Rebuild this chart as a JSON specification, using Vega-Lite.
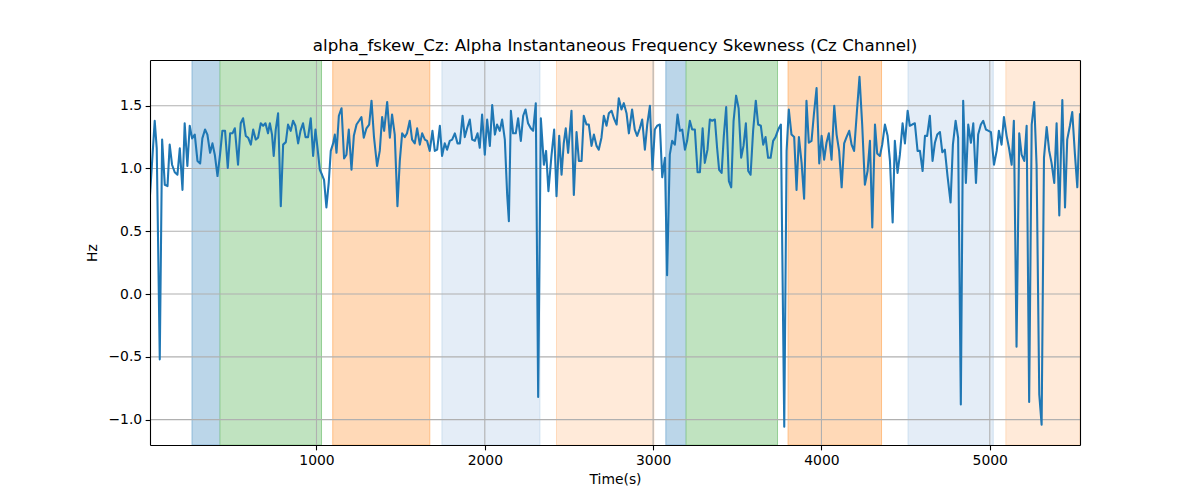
{
  "$schema": "https://vega.github.io/schema/vega-lite/v6.json",
  "width": 930,
  "height": 385,
  "autosize": {"type": "none"},
  "padding": {"left": 150, "top": 60, "right": 120, "bottom": 55},
  "background": "white",
  "config": {"view": {"stroke": null}, "font": "DejaVu Sans"},
  "title": {"text": "alpha_fskew_Cz: Alpha Instantaneous Frequency Skewness (Cz Channel)", "font": "DejaVu Sans", "fontSize": 16.7, "fontWeight": "normal", "color": "black", "anchor": "middle", "offset": -8, "baseline": "alphabetic"},
  "datasets": {
    "bands": [
      {"start": 261, "end": 427, "phase": "A"},
      {"start": 427, "end": 1030, "phase": "B"},
      {"start": 1097, "end": 1673, "phase": "C"},
      {"start": 1746, "end": 2327, "phase": "D"},
      {"start": 2426, "end": 3004, "phase": "E"},
      {"start": 3076, "end": 3196, "phase": "A"},
      {"start": 3196, "end": 3739, "phase": "B"},
      {"start": 3802, "end": 4357, "phase": "C"},
      {"start": 4515, "end": 5020, "phase": "D"},
      {"start": 5096, "end": 5536, "phase": "E"}
    ],
    "xgrid": [{"x": 1000}, {"x": 2000}, {"x": 3000}, {"x": 4000}, {"x": 5000}],
    "ygrid": [{"y": -1.0}, {"y": -0.5}, {"y": 0.0}, {"y": 0.5}, {"y": 1.0}, {"y": 1.5}],
    "series": [
      {"t": 11, "v": 0.79}, {"t": 39, "v": 1.38}, {"t": 51, "v": 1.16}, {"t": 69, "v": -0.52}, {"t": 83, "v": 1.23}, {"t": 99, "v": 0.87}, {"t": 115, "v": 0.86}, {"t": 128, "v": 1.19}, {"t": 142, "v": 1.03}, {"t": 158, "v": 0.97}, {"t": 174, "v": 0.95}, {"t": 188, "v": 1.16}, {"t": 204, "v": 0.83}, {"t": 217, "v": 1.36}, {"t": 233, "v": 1.02}, {"t": 247, "v": 1.34}, {"t": 261, "v": 1.24}, {"t": 277, "v": 1.27}, {"t": 293, "v": 1.06}, {"t": 309, "v": 1.04}, {"t": 322, "v": 1.24}, {"t": 338, "v": 1.31}, {"t": 352, "v": 1.27}, {"t": 368, "v": 1.125}, {"t": 382, "v": 1.2}, {"t": 396, "v": 1.11}, {"t": 412, "v": 0.94}, {"t": 427, "v": 1.11}, {"t": 441, "v": 1.3}, {"t": 457, "v": 1.3}, {"t": 473, "v": 1.005}, {"t": 487, "v": 1.28}, {"t": 501, "v": 1.28}, {"t": 515, "v": 1.32}, {"t": 534, "v": 1.03}, {"t": 550, "v": 1.36}, {"t": 564, "v": 1.4}, {"t": 580, "v": 1.26}, {"t": 594, "v": 1.245}, {"t": 610, "v": 1.19}, {"t": 624, "v": 1.31}, {"t": 639, "v": 1.23}, {"t": 653, "v": 1.245}, {"t": 669, "v": 1.36}, {"t": 683, "v": 1.34}, {"t": 697, "v": 1.36}, {"t": 712, "v": 1.28},
      {"t": 723, "v": 1.36}, {"t": 736, "v": 1.27}, {"t": 746, "v": 1.1}, {"t": 758, "v": 1.31}, {"t": 772, "v": 1.44}, {"t": 788, "v": 0.7}, {"t": 802, "v": 1.19}, {"t": 818, "v": 1.21}, {"t": 831, "v": 1.35}, {"t": 847, "v": 1.3}, {"t": 861, "v": 1.38}, {"t": 875, "v": 1.34}, {"t": 891, "v": 1.2}, {"t": 905, "v": 1.3}, {"t": 920, "v": 1.36}, {"t": 935, "v": 1.25}, {"t": 950, "v": 1.25}, {"t": 966, "v": 1.4}, {"t": 980, "v": 1.1}, {"t": 994, "v": 1.31}, {"t": 1006, "v": 1.165}, {"t": 1020, "v": 0.99}, {"t": 1033, "v": 0.95}, {"t": 1045, "v": 0.91}, {"t": 1059, "v": 0.69}, {"t": 1073, "v": 0.89}, {"t": 1085, "v": 1.14}, {"t": 1099, "v": 1.2}, {"t": 1109, "v": 1.27}, {"t": 1119, "v": 1.125}, {"t": 1133, "v": 1.42}, {"t": 1149, "v": 1.48}, {"t": 1164, "v": 1.08}, {"t": 1178, "v": 1.11}, {"t": 1192, "v": 1.31}, {"t": 1208, "v": 0.99}, {"t": 1222, "v": 1.26}, {"t": 1238, "v": 1.35}, {"t": 1253, "v": 1.38}, {"t": 1267, "v": 1.41}, {"t": 1281, "v": 1.245}, {"t": 1297, "v": 1.32}, {"t": 1313, "v": 1.35}, {"t": 1327, "v": 1.54}, {"t": 1342, "v": 1.245}, {"t": 1360, "v": 1.02}, {"t": 1376, "v": 1.14}, {"t": 1390, "v": 1.41}, {"t": 1402, "v": 1.3}, {"t": 1420, "v": 1.53}, {"t": 1436, "v": 1.245},
      {"t": 1449, "v": 1.43}, {"t": 1465, "v": 1.27}, {"t": 1481, "v": 0.7}, {"t": 1495, "v": 1.06}, {"t": 1509, "v": 1.28}, {"t": 1525, "v": 1.25}, {"t": 1538, "v": 1.28}, {"t": 1554, "v": 1.38}, {"t": 1568, "v": 1.23}, {"t": 1584, "v": 1.2}, {"t": 1598, "v": 1.32}, {"t": 1614, "v": 1.19}, {"t": 1628, "v": 1.28}, {"t": 1644, "v": 1.23}, {"t": 1657, "v": 1.22}, {"t": 1673, "v": 1.14}, {"t": 1689, "v": 1.3}, {"t": 1703, "v": 1.14}, {"t": 1717, "v": 1.15}, {"t": 1733, "v": 1.34}, {"t": 1746, "v": 1.1}, {"t": 1762, "v": 1.2}, {"t": 1776, "v": 1.15}, {"t": 1792, "v": 1.22}, {"t": 1806, "v": 1.23}, {"t": 1822, "v": 1.28}, {"t": 1838, "v": 1.2}, {"t": 1852, "v": 1.2}, {"t": 1868, "v": 1.42}, {"t": 1881, "v": 1.25}, {"t": 1895, "v": 1.32}, {"t": 1911, "v": 1.39}, {"t": 1925, "v": 1.23}, {"t": 1941, "v": 1.22}, {"t": 1957, "v": 1.28}, {"t": 1970, "v": 1.165}, {"t": 1984, "v": 1.43}, {"t": 2000, "v": 1.11}, {"t": 2014, "v": 1.39}, {"t": 2030, "v": 1.18}, {"t": 2044, "v": 1.505}, {"t": 2060, "v": 1.27}, {"t": 2073, "v": 1.35}, {"t": 2089, "v": 1.3}, {"t": 2103, "v": 1.39}, {"t": 2119, "v": 1.23}, {"t": 2133, "v": 0.79}, {"t": 2143, "v": 0.58},
      {"t": 2155, "v": 1.46}, {"t": 2168, "v": 1.28}, {"t": 2184, "v": 1.28}, {"t": 2198, "v": 1.4}, {"t": 2214, "v": 1.22}, {"t": 2228, "v": 1.42}, {"t": 2242, "v": 1.47}, {"t": 2257, "v": 1.36}, {"t": 2273, "v": 1.32}, {"t": 2287, "v": 1.3}, {"t": 2303, "v": 1.52}, {"t": 2317, "v": -0.82}, {"t": 2333, "v": 1.4}, {"t": 2351, "v": 1.03}, {"t": 2364, "v": 1.14}, {"t": 2378, "v": 0.82}, {"t": 2396, "v": 1.1}, {"t": 2412, "v": 1.31}, {"t": 2426, "v": 0.78}, {"t": 2442, "v": 1.26}, {"t": 2456, "v": 0.95}, {"t": 2469, "v": 1.2}, {"t": 2481, "v": 1.32}, {"t": 2495, "v": 1.125}, {"t": 2515, "v": 1.46}, {"t": 2529, "v": 0.79}, {"t": 2545, "v": 1.29}, {"t": 2559, "v": 1.06}, {"t": 2575, "v": 1.06}, {"t": 2588, "v": 1.42}, {"t": 2604, "v": 1.35}, {"t": 2618, "v": 1.35}, {"t": 2634, "v": 1.18}, {"t": 2648, "v": 1.27}, {"t": 2664, "v": 1.18}, {"t": 2677, "v": 1.15}, {"t": 2693, "v": 1.245}, {"t": 2707, "v": 1.42}, {"t": 2723, "v": 1.34}, {"t": 2737, "v": 1.44}, {"t": 2753, "v": 1.46}, {"t": 2767, "v": 1.4}, {"t": 2783, "v": 1.35}, {"t": 2796, "v": 1.56}, {"t": 2812, "v": 1.47}, {"t": 2826, "v": 1.52}, {"t": 2842, "v": 1.44}, {"t": 2856, "v": 1.28},
      {"t": 2875, "v": 1.47}, {"t": 2891, "v": 1.31}, {"t": 2905, "v": 1.26}, {"t": 2921, "v": 1.32}, {"t": 2935, "v": 1.39}, {"t": 2951, "v": 1.15}, {"t": 2965, "v": 1.35}, {"t": 2981, "v": 1.5}, {"t": 2996, "v": 0.99}, {"t": 3010, "v": 1.31}, {"t": 3024, "v": 1.34}, {"t": 3040, "v": 1.35}, {"t": 3054, "v": 0.93}, {"t": 3070, "v": 1.085}, {"t": 3083, "v": 0.15}, {"t": 3099, "v": 1.11}, {"t": 3113, "v": 1.22}, {"t": 3129, "v": 1.19}, {"t": 3145, "v": 1.43}, {"t": 3159, "v": 1.3}, {"t": 3173, "v": 1.31}, {"t": 3189, "v": 1.15}, {"t": 3202, "v": 1.22}, {"t": 3218, "v": 1.38}, {"t": 3232, "v": 1.31}, {"t": 3248, "v": 1.31}, {"t": 3264, "v": 0.97}, {"t": 3278, "v": 0.97}, {"t": 3294, "v": 1.32}, {"t": 3307, "v": 1.045}, {"t": 3323, "v": 1.15}, {"t": 3337, "v": 1.39}, {"t": 3351, "v": 1.38}, {"t": 3367, "v": 1.39}, {"t": 3380, "v": 1.165}, {"t": 3392, "v": 0.99}, {"t": 3407, "v": 0.965}, {"t": 3420, "v": 1.26}, {"t": 3434, "v": 1.49}, {"t": 3450, "v": 0.9}, {"t": 3464, "v": 0.85}, {"t": 3478, "v": 1.38}, {"t": 3493, "v": 1.58}, {"t": 3508, "v": 1.48}, {"t": 3523, "v": 1.085}, {"t": 3537, "v": 1.18}, {"t": 3551, "v": 1.36}, {"t": 3565, "v": 0.98},
      {"t": 3579, "v": 0.95}, {"t": 3594, "v": 1.3}, {"t": 3610, "v": 1.54}, {"t": 3624, "v": 1.35}, {"t": 3640, "v": 1.34}, {"t": 3654, "v": 1.19}, {"t": 3668, "v": 1.25}, {"t": 3683, "v": 1.085}, {"t": 3698, "v": 1.085}, {"t": 3713, "v": 1.22}, {"t": 3727, "v": 1.25}, {"t": 3743, "v": 1.31}, {"t": 3759, "v": 1.35}, {"t": 3779, "v": -1.056}, {"t": 3793, "v": 1.14}, {"t": 3806, "v": 1.47}, {"t": 3822, "v": 1.27}, {"t": 3838, "v": 1.25}, {"t": 3852, "v": 0.83}, {"t": 3866, "v": 1.25}, {"t": 3882, "v": 1.045}, {"t": 3897, "v": 0.76}, {"t": 3911, "v": 1.54}, {"t": 3925, "v": 1.205}, {"t": 3941, "v": 1.22}, {"t": 3955, "v": 1.43}, {"t": 3971, "v": 1.64}, {"t": 3987, "v": 1.04}, {"t": 4001, "v": 1.26}, {"t": 4016, "v": 1.07}, {"t": 4030, "v": 1.205}, {"t": 4044, "v": 1.28}, {"t": 4060, "v": 1.07}, {"t": 4076, "v": 1.5}, {"t": 4090, "v": 1.27}, {"t": 4105, "v": 1.14}, {"t": 4120, "v": 0.85}, {"t": 4135, "v": 1.2}, {"t": 4149, "v": 1.25}, {"t": 4165, "v": 1.3}, {"t": 4179, "v": 1.19}, {"t": 4194, "v": 1.14}, {"t": 4211, "v": 1.46}, {"t": 4226, "v": 1.73}, {"t": 4242, "v": 1.35}, {"t": 4258, "v": 0.87}, {"t": 4274, "v": 0.98},
      {"t": 4288, "v": 1.22}, {"t": 4302, "v": 0.53}, {"t": 4318, "v": 1.35}, {"t": 4331, "v": 1.12}, {"t": 4347, "v": 1.1}, {"t": 4361, "v": 1.19}, {"t": 4377, "v": 1.35}, {"t": 4393, "v": 1.26}, {"t": 4407, "v": 1.06}, {"t": 4423, "v": 0.57}, {"t": 4436, "v": 1.22}, {"t": 4452, "v": 0.965}, {"t": 4466, "v": 1.11}, {"t": 4482, "v": 1.36}, {"t": 4496, "v": 1.2}, {"t": 4512, "v": 1.46}, {"t": 4525, "v": 1.34}, {"t": 4539, "v": 1.35}, {"t": 4555, "v": 1.36}, {"t": 4571, "v": 1.14}, {"t": 4585, "v": 1.14}, {"t": 4601, "v": 0.98}, {"t": 4615, "v": 1.26}, {"t": 4628, "v": 1.26}, {"t": 4644, "v": 1.42}, {"t": 4660, "v": 1.06}, {"t": 4674, "v": 1.205}, {"t": 4688, "v": 1.27}, {"t": 4704, "v": 1.29}, {"t": 4718, "v": 1.13}, {"t": 4733, "v": 1.15}, {"t": 4749, "v": 0.94}, {"t": 4767, "v": 0.73}, {"t": 4781, "v": 1.19}, {"t": 4797, "v": 1.38}, {"t": 4812, "v": 1.245}, {"t": 4828, "v": -0.88}, {"t": 4842, "v": 1.54}, {"t": 4858, "v": 0.885}, {"t": 4872, "v": 1.35}, {"t": 4888, "v": 1.205}, {"t": 4902, "v": 1.36}, {"t": 4918, "v": 0.885}, {"t": 4931, "v": 1.27}, {"t": 4947, "v": 1.35}, {"t": 4961, "v": 1.38}, {"t": 4977, "v": 1.31}, {"t": 4993, "v": 1.3},
      {"t": 5007, "v": 1.29}, {"t": 5025, "v": 1.03}, {"t": 5041, "v": 1.14}, {"t": 5054, "v": 1.3}, {"t": 5070, "v": 1.19}, {"t": 5084, "v": 1.41}, {"t": 5100, "v": 1.26}, {"t": 5114, "v": 1.165}, {"t": 5130, "v": 1.03}, {"t": 5143, "v": 1.38}, {"t": 5159, "v": -0.42}, {"t": 5175, "v": 1.28}, {"t": 5189, "v": 1.11}, {"t": 5205, "v": 1.06}, {"t": 5219, "v": 1.34}, {"t": 5234, "v": -0.86}, {"t": 5249, "v": 1.35}, {"t": 5264, "v": 1.53}, {"t": 5278, "v": 1.03}, {"t": 5294, "v": -0.8}, {"t": 5308, "v": -1.04}, {"t": 5322, "v": 1.085}, {"t": 5338, "v": 1.33}, {"t": 5353, "v": 1.14}, {"t": 5367, "v": 1.045}, {"t": 5383, "v": 0.885}, {"t": 5397, "v": 1.36}, {"t": 5413, "v": 0.625}, {"t": 5431, "v": 1.545}, {"t": 5447, "v": 0.69}, {"t": 5460, "v": 1.23}, {"t": 5476, "v": 1.34}, {"t": 5490, "v": 1.45}, {"t": 5506, "v": 1.11}, {"t": 5520, "v": 0.85}, {"t": 5536, "v": 1.44}
    ]
  },
  "resolve": {"axis": {"x": "independent", "y": "independent"}},
  "layer": [
    {
      "data": {"name": "bands"},
      "mark": {"type": "rect", "clip": true, "strokeWidth": 1},
      "encoding": {
        "x": {"field": "start", "type": "quantitative", "scale": {"domain": [11, 5536], "nice": false, "zero": false}, "axis": null},
        "x2": {"field": "end"},
        "color": {"field": "phase", "type": "nominal", "legend": null, "scale": {"domain": ["A", "B", "C", "D", "E"], "range": ["#bbd6e9", "#c0e3c0", "#ffd9b7", "#e4edf7", "#ffead9"]}},
        "stroke": {"field": "phase", "type": "nominal", "legend": null, "scale": {"domain": ["A", "B", "C", "D", "E"], "range": ["#8cb9d9", "#94cf94", "#ffbe84", "#ccdfef", "#ffdabb"]}}
      }
    },
    {
      "data": {"name": "xgrid"},
      "mark": {"type": "rule", "color": "#b0b0b0", "strokeWidth": 1.1},
      "encoding": {
        "x": {"field": "x", "type": "quantitative", "scale": {"domain": [11, 5536], "nice": false, "zero": false},
          "axis": {"orient": "top", "labels": false, "ticks": false, "title": null, "grid": false, "domain": true, "domainColor": "black", "domainWidth": 1.1, "zindex": 1}}
      }
    },
    {
      "data": {"name": "ygrid"},
      "mark": {"type": "rule", "color": "#b0b0b0", "strokeWidth": 1.1},
      "encoding": {
        "y": {"field": "y", "type": "quantitative", "scale": {"domain": [-1.202, 1.864], "nice": false, "zero": false},
          "axis": {"orient": "right", "labels": false, "ticks": false, "title": null, "grid": false, "domain": true, "domainColor": "black", "domainWidth": 1.1, "zindex": 1}}
      }
    },
    {
      "data": {"name": "series"},
      "mark": {"type": "line", "color": "#1f77b4", "strokeWidth": 2.08, "strokeJoin": "round", "clip": true},
      "encoding": {
        "x": {"field": "t", "type": "quantitative", "scale": {"domain": [11, 5536], "nice": false, "zero": false},
          "axis": {"orient": "bottom", "title": "Time(s)", "values": [1000, 2000, 3000, 4000, 5000], "format": "d", "grid": false,
            "tickSize": 4.86, "tickWidth": 1.1, "tickColor": "black", "domainColor": "black", "domainWidth": 1.1,
            "labelFont": "DejaVu Sans", "labelFontSize": 13.9, "labelColor": "black", "labelPadding": 3.5,
            "titleFont": "DejaVu Sans", "titleFontSize": 13.9, "titleFontWeight": "normal", "titleColor": "black", "titlePadding": 5, "zindex": 1}},
        "y": {"field": "v", "type": "quantitative", "scale": {"domain": [-1.202, 1.864], "nice": false, "zero": false},
          "axis": {"orient": "left", "title": "Hz", "values": [-1.0, -0.5, 0.0, 0.5, 1.0, 1.5], "format": ".1f", "grid": false,
            "tickSize": 4.86, "tickWidth": 1.1, "tickColor": "black", "domainColor": "black", "domainWidth": 1.1,
            "labelFont": "DejaVu Sans", "labelFontSize": 13.9, "labelColor": "black", "labelPadding": 3.5,
            "titleFont": "DejaVu Sans", "titleFontSize": 13.9, "titleFontWeight": "normal", "titleColor": "black", "titlePadding": 8, "zindex": 1}}
      }
    }
  ]
}
